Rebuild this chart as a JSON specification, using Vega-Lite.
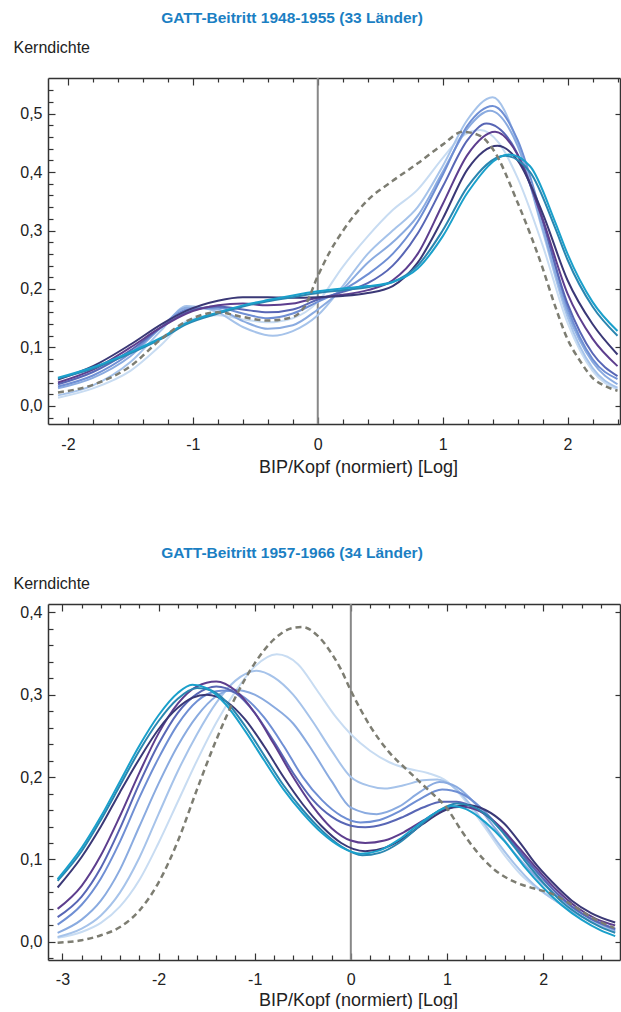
{
"$schema": "https://vega.github.io/schema/vega-lite/v6.json",
"background": "white",
"padding": {"left": 13, "top": 10, "right": 0, "bottom": 0},
"bounds": "flush",
"spacing": 180,
"config": {
  "view": {"stroke": null},
  "font": "Liberation Sans",
  "axis": {"domainColor": "#333333", "domainWidth": 1.5, "tickColor": "#333333", "tickWidth": 1.2, "grid": false, "labelFont": "Liberation Sans", "labelFontSize": 16, "labelColor": "#222222", "titleFont": "Liberation Sans", "titleFontWeight": "normal", "titleColor": "#222222", "labelOverlap": false, "labelFlush": false},
  "title": {"font": "Liberation Sans", "fontSize": 15.5, "fontWeight": "bold", "color": "#1b7fc3", "anchor": "middle"}
},
"datasets": {
"p1": [
{"s":"d","x":-2.08,"y":0.023},{"s":"d","x":-1.8,"y":0.036},{"s":"d","x":-1.5,"y":0.068},{"s":"d","x":-1.25,"y":0.115},{"s":"d","x":-1.05,"y":0.145},{"s":"d","x":-0.8,"y":0.16},{"s":"d","x":-0.6,"y":0.152},{"s":"d","x":-0.4,"y":0.146},{"s":"d","x":-0.2,"y":0.152},{"s":"d","x":-0.1,"y":0.172},{"s":"d","x":0,"y":0.222},{"s":"d","x":0.1,"y":0.265},{"s":"d","x":0.2,"y":0.299},{"s":"d","x":0.4,"y":0.352},{"s":"d","x":0.6,"y":0.385},{"s":"d","x":0.8,"y":0.415},{"s":"d","x":1.0,"y":0.447},{"s":"d","x":1.16,"y":0.469},{"s":"d","x":1.3,"y":0.462},{"s":"d","x":1.4,"y":0.44},{"s":"d","x":1.6,"y":0.348},{"s":"d","x":1.8,"y":0.236},{"s":"d","x":1.9,"y":0.171},{"s":"d","x":2.0,"y":0.114},{"s":"d","x":2.1,"y":0.077},{"s":"d","x":2.2,"y":0.048},{"s":"d","x":2.3,"y":0.034},{"s":"d","x":2.4,"y":0.026},
{"s":"s1","x":-2.08,"y":0.014},{"s":"s1","x":-1.8,"y":0.03},{"s":"s1","x":-1.5,"y":0.06},{"s":"s1","x":-1.25,"y":0.105},{"s":"s1","x":-1.05,"y":0.145},{"s":"s1","x":-0.8,"y":0.155},{"s":"s1","x":-0.6,"y":0.148},{"s":"s1","x":-0.4,"y":0.143},{"s":"s1","x":-0.2,"y":0.15},{"s":"s1","x":0,"y":0.178},{"s":"s1","x":0.2,"y":0.238},{"s":"s1","x":0.4,"y":0.29},{"s":"s1","x":0.6,"y":0.335},{"s":"s1","x":0.8,"y":0.37},{"s":"s1","x":1.0,"y":0.424},{"s":"s1","x":1.15,"y":0.46},{"s":"s1","x":1.3,"y":0.472},{"s":"s1","x":1.45,"y":0.45},{"s":"s1","x":1.6,"y":0.39},{"s":"s1","x":1.8,"y":0.275},{"s":"s1","x":2.0,"y":0.142},{"s":"s1","x":2.2,"y":0.06},{"s":"s1","x":2.4,"y":0.028},
{"s":"s2","x":-2.08,"y":0.018},{"s":"s2","x":-1.8,"y":0.035},{"s":"s2","x":-1.5,"y":0.075},{"s":"s2","x":-1.25,"y":0.13},{"s":"s2","x":-1.05,"y":0.171},{"s":"s2","x":-0.8,"y":0.16},{"s":"s2","x":-0.6,"y":0.135},{"s":"s2","x":-0.36,"y":0.12},{"s":"s2","x":-0.2,"y":0.128},{"s":"s2","x":0,"y":0.155},{"s":"s2","x":0.2,"y":0.205},{"s":"s2","x":0.4,"y":0.26},{"s":"s2","x":0.6,"y":0.3},{"s":"s2","x":0.8,"y":0.34},{"s":"s2","x":1.0,"y":0.41},{"s":"s2","x":1.2,"y":0.49},{"s":"s2","x":1.4,"y":0.528},{"s":"s2","x":1.6,"y":0.45},{"s":"s2","x":1.8,"y":0.3},{"s":"s2","x":2.0,"y":0.152},{"s":"s2","x":2.2,"y":0.065},{"s":"s2","x":2.4,"y":0.031},
{"s":"s3","x":-2.08,"y":0.03},{"s":"s3","x":-1.8,"y":0.048},{"s":"s3","x":-1.5,"y":0.085},{"s":"s3","x":-1.25,"y":0.135},{"s":"s3","x":-1.05,"y":0.168},{"s":"s3","x":-0.8,"y":0.165},{"s":"s3","x":-0.6,"y":0.145},{"s":"s3","x":-0.4,"y":0.132},{"s":"s3","x":-0.2,"y":0.138},{"s":"s3","x":0,"y":0.165},{"s":"s3","x":0.2,"y":0.2},{"s":"s3","x":0.4,"y":0.245},{"s":"s3","x":0.6,"y":0.28},{"s":"s3","x":0.8,"y":0.325},{"s":"s3","x":1.0,"y":0.4},{"s":"s3","x":1.2,"y":0.475},{"s":"s3","x":1.38,"y":0.505},{"s":"s3","x":1.6,"y":0.445},{"s":"s3","x":1.8,"y":0.305},{"s":"s3","x":2.0,"y":0.16},{"s":"s3","x":2.2,"y":0.075},{"s":"s3","x":2.4,"y":0.037},
{"s":"s4","x":-2.08,"y":0.033},{"s":"s4","x":-1.8,"y":0.052},{"s":"s4","x":-1.5,"y":0.09},{"s":"s4","x":-1.25,"y":0.135},{"s":"s4","x":-1.05,"y":0.165},{"s":"s4","x":-0.8,"y":0.168},{"s":"s4","x":-0.6,"y":0.158},{"s":"s4","x":-0.4,"y":0.15},{"s":"s4","x":-0.2,"y":0.158},{"s":"s4","x":0,"y":0.178},{"s":"s4","x":0.2,"y":0.198},{"s":"s4","x":0.4,"y":0.225},{"s":"s4","x":0.6,"y":0.26},{"s":"s4","x":0.8,"y":0.315},{"s":"s4","x":1.0,"y":0.395},{"s":"s4","x":1.2,"y":0.48},{"s":"s4","x":1.4,"y":0.513},{"s":"s4","x":1.6,"y":0.455},{"s":"s4","x":1.8,"y":0.32},{"s":"s4","x":2.0,"y":0.168},{"s":"s4","x":2.2,"y":0.08},{"s":"s4","x":2.4,"y":0.046},
{"s":"s5","x":-2.08,"y":0.037},{"s":"s5","x":-1.8,"y":0.058},{"s":"s5","x":-1.5,"y":0.095},{"s":"s5","x":-1.25,"y":0.135},{"s":"s5","x":-1.05,"y":0.16},{"s":"s5","x":-0.8,"y":0.17},{"s":"s5","x":-0.6,"y":0.165},{"s":"s5","x":-0.4,"y":0.16},{"s":"s5","x":-0.2,"y":0.165},{"s":"s5","x":0,"y":0.182},{"s":"s5","x":0.2,"y":0.195},{"s":"s5","x":0.4,"y":0.21},{"s":"s5","x":0.6,"y":0.24},{"s":"s5","x":0.8,"y":0.295},{"s":"s5","x":1.0,"y":0.375},{"s":"s5","x":1.2,"y":0.455},{"s":"s5","x":1.35,"y":0.483},{"s":"s5","x":1.55,"y":0.45},{"s":"s5","x":1.75,"y":0.35},{"s":"s5","x":2.0,"y":0.175},{"s":"s5","x":2.2,"y":0.09},{"s":"s5","x":2.4,"y":0.051},
{"s":"s6","x":-2.08,"y":0.04},{"s":"s6","x":-1.8,"y":0.062},{"s":"s6","x":-1.5,"y":0.1},{"s":"s6","x":-1.25,"y":0.135},{"s":"s6","x":-1.05,"y":0.158},{"s":"s6","x":-0.8,"y":0.172},{"s":"s6","x":-0.6,"y":0.175},{"s":"s6","x":-0.4,"y":0.172},{"s":"s6","x":-0.2,"y":0.175},{"s":"s6","x":0,"y":0.185},{"s":"s6","x":0.2,"y":0.19},{"s":"s6","x":0.4,"y":0.198},{"s":"s6","x":0.6,"y":0.215},{"s":"s6","x":0.8,"y":0.26},{"s":"s6","x":1.0,"y":0.345},{"s":"s6","x":1.2,"y":0.43},{"s":"s6","x":1.42,"y":0.469},{"s":"s6","x":1.6,"y":0.43},{"s":"s6","x":1.8,"y":0.32},{"s":"s6","x":2.0,"y":0.192},{"s":"s6","x":2.2,"y":0.115},{"s":"s6","x":2.4,"y":0.068},
{"s":"s7","x":-2.08,"y":0.045},{"s":"s7","x":-1.8,"y":0.068},{"s":"s7","x":-1.5,"y":0.105},{"s":"s7","x":-1.25,"y":0.14},{"s":"s7","x":-1.05,"y":0.163},{"s":"s7","x":-0.8,"y":0.18},{"s":"s7","x":-0.6,"y":0.186},{"s":"s7","x":-0.4,"y":0.186},{"s":"s7","x":-0.2,"y":0.185},{"s":"s7","x":0,"y":0.186},{"s":"s7","x":0.2,"y":0.188},{"s":"s7","x":0.4,"y":0.193},{"s":"s7","x":0.6,"y":0.205},{"s":"s7","x":0.8,"y":0.245},{"s":"s7","x":1.0,"y":0.32},{"s":"s7","x":1.2,"y":0.405},{"s":"s7","x":1.44,"y":0.445},{"s":"s7","x":1.6,"y":0.42},{"s":"s7","x":1.8,"y":0.33},{"s":"s7","x":2.0,"y":0.215},{"s":"s7","x":2.2,"y":0.14},{"s":"s7","x":2.4,"y":0.088},
{"s":"s8","x":-2.08,"y":0.047},{"s":"s8","x":-1.8,"y":0.064},{"s":"s8","x":-1.5,"y":0.09},{"s":"s8","x":-1.25,"y":0.115},{"s":"s8","x":-1.05,"y":0.14},{"s":"s8","x":-0.8,"y":0.158},{"s":"s8","x":-0.6,"y":0.17},{"s":"s8","x":-0.4,"y":0.179},{"s":"s8","x":-0.2,"y":0.186},{"s":"s8","x":0,"y":0.193},{"s":"s8","x":0.2,"y":0.198},{"s":"s8","x":0.4,"y":0.203},{"s":"s8","x":0.6,"y":0.212},{"s":"s8","x":0.8,"y":0.24},{"s":"s8","x":1.0,"y":0.3},{"s":"s8","x":1.2,"y":0.375},{"s":"s8","x":1.5,"y":0.428},{"s":"s8","x":1.7,"y":0.4},{"s":"s8","x":1.9,"y":0.305},{"s":"s8","x":2.0,"y":0.25},{"s":"s8","x":2.2,"y":0.17},{"s":"s8","x":2.4,"y":0.12},
{"s":"s9","x":-2.08,"y":0.048},{"s":"s9","x":-1.8,"y":0.066},{"s":"s9","x":-1.5,"y":0.092},{"s":"s9","x":-1.25,"y":0.117},{"s":"s9","x":-1.05,"y":0.142},{"s":"s9","x":-0.8,"y":0.16},{"s":"s9","x":-0.6,"y":0.172},{"s":"s9","x":-0.4,"y":0.181},{"s":"s9","x":-0.2,"y":0.189},{"s":"s9","x":0,"y":0.196},{"s":"s9","x":0.2,"y":0.201},{"s":"s9","x":0.4,"y":0.205},{"s":"s9","x":0.6,"y":0.212},{"s":"s9","x":0.8,"y":0.235},{"s":"s9","x":1.0,"y":0.29},{"s":"s9","x":1.2,"y":0.365},{"s":"s9","x":1.53,"y":0.43},{"s":"s9","x":1.7,"y":0.41},{"s":"s9","x":1.9,"y":0.315},{"s":"s9","x":2.0,"y":0.26},{"s":"s9","x":2.2,"y":0.178},{"s":"s9","x":2.4,"y":0.128}
],
"p2": [
{"s":"d","x":-3.05,"y":-0.001},{"s":"d","x":-2.8,"y":0.002},{"s":"d","x":-2.6,"y":0.008},{"s":"d","x":-2.4,"y":0.018},{"s":"d","x":-2.2,"y":0.038},{"s":"d","x":-2.0,"y":0.072},{"s":"d","x":-1.8,"y":0.122},{"s":"d","x":-1.6,"y":0.185},{"s":"d","x":-1.4,"y":0.245},{"s":"d","x":-1.2,"y":0.297},{"s":"d","x":-1.0,"y":0.338},{"s":"d","x":-0.8,"y":0.367},{"s":"d","x":-0.6,"y":0.381},{"s":"d","x":-0.5,"y":0.382},{"s":"d","x":-0.35,"y":0.372},{"s":"d","x":-0.2,"y":0.35},{"s":"d","x":-0.1,"y":0.33},{"s":"d","x":0,"y":0.305},{"s":"d","x":0.2,"y":0.262},{"s":"d","x":0.4,"y":0.23},{"s":"d","x":0.6,"y":0.207},{"s":"d","x":0.8,"y":0.185},{"s":"d","x":1.0,"y":0.162},{"s":"d","x":1.15,"y":0.135},{"s":"d","x":1.3,"y":0.111},{"s":"d","x":1.5,"y":0.087},{"s":"d","x":1.7,"y":0.073},{"s":"d","x":1.9,"y":0.065},{"s":"d","x":2.1,"y":0.058},{"s":"d","x":2.3,"y":0.045},{"s":"d","x":2.5,"y":0.03},{"s":"d","x":2.74,"y":0.017},
{"s":"s1","x":-3.05,"y":0.005},{"s":"s1","x":-2.8,"y":0.012},{"s":"s1","x":-2.6,"y":0.023},{"s":"s1","x":-2.4,"y":0.043},{"s":"s1","x":-2.2,"y":0.075},{"s":"s1","x":-2.0,"y":0.12},{"s":"s1","x":-1.8,"y":0.17},{"s":"s1","x":-1.6,"y":0.22},{"s":"s1","x":-1.4,"y":0.266},{"s":"s1","x":-1.2,"y":0.304},{"s":"s1","x":-1.0,"y":0.334},{"s":"s1","x":-0.77,"y":0.349},{"s":"s1","x":-0.55,"y":0.337},{"s":"s1","x":-0.35,"y":0.305},{"s":"s1","x":-0.15,"y":0.272},{"s":"s1","x":0,"y":0.252},{"s":"s1","x":0.2,"y":0.232},{"s":"s1","x":0.4,"y":0.218},{"s":"s1","x":0.6,"y":0.21},{"s":"s1","x":0.8,"y":0.205},{"s":"s1","x":1.0,"y":0.195},{"s":"s1","x":1.2,"y":0.17},{"s":"s1","x":1.4,"y":0.138},{"s":"s1","x":1.6,"y":0.105},{"s":"s1","x":1.8,"y":0.078},{"s":"s1","x":2.0,"y":0.06},{"s":"s1","x":2.2,"y":0.045},{"s":"s1","x":2.4,"y":0.031},{"s":"s1","x":2.6,"y":0.019},{"s":"s1","x":2.75,"y":0.012},
{"s":"s2","x":-3.05,"y":0.006},{"s":"s2","x":-2.8,"y":0.016},{"s":"s2","x":-2.6,"y":0.032},{"s":"s2","x":-2.4,"y":0.06},{"s":"s2","x":-2.2,"y":0.102},{"s":"s2","x":-2.0,"y":0.155},{"s":"s2","x":-1.8,"y":0.207},{"s":"s2","x":-1.6,"y":0.252},{"s":"s2","x":-1.4,"y":0.29},{"s":"s2","x":-1.2,"y":0.317},{"s":"s2","x":-0.98,"y":0.329},{"s":"s2","x":-0.8,"y":0.321},{"s":"s2","x":-0.6,"y":0.3},{"s":"s2","x":-0.4,"y":0.268},{"s":"s2","x":-0.2,"y":0.232},{"s":"s2","x":0,"y":0.2},{"s":"s2","x":0.2,"y":0.189},{"s":"s2","x":0.35,"y":0.186},{"s":"s2","x":0.55,"y":0.19},{"s":"s2","x":0.75,"y":0.196},{"s":"s2","x":0.9,"y":0.197},{"s":"s2","x":1.1,"y":0.185},{"s":"s2","x":1.3,"y":0.158},{"s":"s2","x":1.5,"y":0.125},{"s":"s2","x":1.7,"y":0.095},{"s":"s2","x":1.9,"y":0.07},{"s":"s2","x":2.1,"y":0.052},{"s":"s2","x":2.3,"y":0.037},{"s":"s2","x":2.5,"y":0.025},{"s":"s2","x":2.75,"y":0.013},
{"s":"s3","x":-3.05,"y":0.011},{"s":"s3","x":-2.8,"y":0.027},{"s":"s3","x":-2.6,"y":0.05},{"s":"s3","x":-2.4,"y":0.088},{"s":"s3","x":-2.2,"y":0.14},{"s":"s3","x":-2.0,"y":0.192},{"s":"s3","x":-1.8,"y":0.238},{"s":"s3","x":-1.6,"y":0.274},{"s":"s3","x":-1.4,"y":0.298},{"s":"s3","x":-1.22,"y":0.306},{"s":"s3","x":-1.0,"y":0.3},{"s":"s3","x":-0.8,"y":0.285},{"s":"s3","x":-0.6,"y":0.265},{"s":"s3","x":-0.4,"y":0.232},{"s":"s3","x":-0.2,"y":0.195},{"s":"s3","x":0,"y":0.163},{"s":"s3","x":0.27,"y":0.155},{"s":"s3","x":0.5,"y":0.164},{"s":"s3","x":0.72,"y":0.182},{"s":"s3","x":0.92,"y":0.194},{"s":"s3","x":1.1,"y":0.188},{"s":"s3","x":1.3,"y":0.167},{"s":"s3","x":1.5,"y":0.138},{"s":"s3","x":1.7,"y":0.108},{"s":"s3","x":1.9,"y":0.082},{"s":"s3","x":2.1,"y":0.06},{"s":"s3","x":2.3,"y":0.042},{"s":"s3","x":2.5,"y":0.028},{"s":"s3","x":2.75,"y":0.014},
{"s":"s4","x":-3.05,"y":0.021},{"s":"s4","x":-2.8,"y":0.045},{"s":"s4","x":-2.6,"y":0.077},{"s":"s4","x":-2.4,"y":0.122},{"s":"s4","x":-2.2,"y":0.175},{"s":"s4","x":-2.0,"y":0.223},{"s":"s4","x":-1.8,"y":0.264},{"s":"s4","x":-1.6,"y":0.292},{"s":"s4","x":-1.4,"y":0.304},{"s":"s4","x":-1.3,"y":0.305},{"s":"s4","x":-1.1,"y":0.296},{"s":"s4","x":-0.9,"y":0.272},{"s":"s4","x":-0.7,"y":0.238},{"s":"s4","x":-0.5,"y":0.2},{"s":"s4","x":-0.3,"y":0.172},{"s":"s4","x":-0.1,"y":0.153},{"s":"s4","x":0.1,"y":0.145},{"s":"s4","x":0.3,"y":0.148},{"s":"s4","x":0.5,"y":0.158},{"s":"s4","x":0.7,"y":0.172},{"s":"s4","x":0.95,"y":0.185},{"s":"s4","x":1.15,"y":0.18},{"s":"s4","x":1.35,"y":0.163},{"s":"s4","x":1.55,"y":0.138},{"s":"s4","x":1.75,"y":0.11},{"s":"s4","x":1.95,"y":0.083},{"s":"s4","x":2.15,"y":0.058},{"s":"s4","x":2.35,"y":0.038},{"s":"s4","x":2.55,"y":0.025},{"s":"s4","x":2.75,"y":0.015},
{"s":"s5","x":-3.05,"y":0.03},{"s":"s5","x":-2.8,"y":0.055},{"s":"s5","x":-2.6,"y":0.09},{"s":"s5","x":-2.4,"y":0.138},{"s":"s5","x":-2.2,"y":0.192},{"s":"s5","x":-2.0,"y":0.24},{"s":"s5","x":-1.8,"y":0.278},{"s":"s5","x":-1.6,"y":0.301},{"s":"s5","x":-1.4,"y":0.31},{"s":"s5","x":-1.2,"y":0.302},{"s":"s5","x":-1.0,"y":0.278},{"s":"s5","x":-0.8,"y":0.243},{"s":"s5","x":-0.6,"y":0.205},{"s":"s5","x":-0.4,"y":0.173},{"s":"s5","x":-0.2,"y":0.152},{"s":"s5","x":0,"y":0.141},{"s":"s5","x":0.15,"y":0.139},{"s":"s5","x":0.35,"y":0.143},{"s":"s5","x":0.55,"y":0.152},{"s":"s5","x":0.75,"y":0.163},{"s":"s5","x":0.95,"y":0.17},{"s":"s5","x":1.1,"y":0.17},{"s":"s5","x":1.3,"y":0.162},{"s":"s5","x":1.5,"y":0.145},{"s":"s5","x":1.7,"y":0.118},{"s":"s5","x":1.9,"y":0.09},{"s":"s5","x":2.1,"y":0.064},{"s":"s5","x":2.3,"y":0.043},{"s":"s5","x":2.5,"y":0.028},{"s":"s5","x":2.75,"y":0.016},
{"s":"s6","x":-3.05,"y":0.04},{"s":"s6","x":-2.8,"y":0.068},{"s":"s6","x":-2.6,"y":0.105},{"s":"s6","x":-2.4,"y":0.153},{"s":"s6","x":-2.2,"y":0.205},{"s":"s6","x":-2.0,"y":0.253},{"s":"s6","x":-1.8,"y":0.289},{"s":"s6","x":-1.6,"y":0.31},{"s":"s6","x":-1.4,"y":0.316},{"s":"s6","x":-1.2,"y":0.305},{"s":"s6","x":-1.0,"y":0.278},{"s":"s6","x":-0.8,"y":0.24},{"s":"s6","x":-0.6,"y":0.2},{"s":"s6","x":-0.4,"y":0.165},{"s":"s6","x":-0.2,"y":0.138},{"s":"s6","x":0,"y":0.123},{"s":"s6","x":0.15,"y":0.12},{"s":"s6","x":0.35,"y":0.123},{"s":"s6","x":0.55,"y":0.133},{"s":"s6","x":0.75,"y":0.147},{"s":"s6","x":0.95,"y":0.16},{"s":"s6","x":1.15,"y":0.164},{"s":"s6","x":1.35,"y":0.158},{"s":"s6","x":1.55,"y":0.14},{"s":"s6","x":1.75,"y":0.114},{"s":"s6","x":1.95,"y":0.087},{"s":"s6","x":2.15,"y":0.062},{"s":"s6","x":2.35,"y":0.042},{"s":"s6","x":2.55,"y":0.028},{"s":"s6","x":2.75,"y":0.02},
{"s":"s7","x":-3.05,"y":0.066},{"s":"s7","x":-2.8,"y":0.103},{"s":"s7","x":-2.6,"y":0.14},{"s":"s7","x":-2.4,"y":0.182},{"s":"s7","x":-2.2,"y":0.222},{"s":"s7","x":-2.0,"y":0.258},{"s":"s7","x":-1.8,"y":0.284},{"s":"s7","x":-1.65,"y":0.296},{"s":"s7","x":-1.5,"y":0.3},{"s":"s7","x":-1.3,"y":0.292},{"s":"s7","x":-1.1,"y":0.27},{"s":"s7","x":-0.9,"y":0.237},{"s":"s7","x":-0.7,"y":0.2},{"s":"s7","x":-0.5,"y":0.167},{"s":"s7","x":-0.3,"y":0.14},{"s":"s7","x":-0.1,"y":0.12},{"s":"s7","x":0.15,"y":0.11},{"s":"s7","x":0.35,"y":0.114},{"s":"s7","x":0.55,"y":0.126},{"s":"s7","x":0.75,"y":0.143},{"s":"s7","x":0.95,"y":0.158},{"s":"s7","x":1.2,"y":0.166},{"s":"s7","x":1.4,"y":0.16},{"s":"s7","x":1.6,"y":0.143},{"s":"s7","x":1.8,"y":0.114},{"s":"s7","x":1.9,"y":0.098},{"s":"s7","x":2.1,"y":0.072},{"s":"s7","x":2.3,"y":0.05},{"s":"s7","x":2.5,"y":0.035},{"s":"s7","x":2.75,"y":0.0235},
{"s":"s8","x":-3.05,"y":0.074},{"s":"s8","x":-2.8,"y":0.11},{"s":"s8","x":-2.6,"y":0.148},{"s":"s8","x":-2.4,"y":0.19},{"s":"s8","x":-2.2,"y":0.232},{"s":"s8","x":-2.0,"y":0.268},{"s":"s8","x":-1.8,"y":0.295},{"s":"s8","x":-1.6,"y":0.308},{"s":"s8","x":-1.45,"y":0.305},{"s":"s8","x":-1.3,"y":0.292},{"s":"s8","x":-1.1,"y":0.262},{"s":"s8","x":-0.9,"y":0.226},{"s":"s8","x":-0.7,"y":0.19},{"s":"s8","x":-0.5,"y":0.16},{"s":"s8","x":-0.3,"y":0.135},{"s":"s8","x":-0.1,"y":0.116},{"s":"s8","x":0.12,"y":0.105},{"s":"s8","x":0.3,"y":0.108},{"s":"s8","x":0.5,"y":0.12},{"s":"s8","x":0.7,"y":0.139},{"s":"s8","x":0.9,"y":0.158},{"s":"s8","x":1.1,"y":0.168},{"s":"s8","x":1.25,"y":0.165},{"s":"s8","x":1.4,"y":0.155},{"s":"s8","x":1.6,"y":0.13},{"s":"s8","x":1.8,"y":0.1},{"s":"s8","x":2.0,"y":0.072},{"s":"s8","x":2.2,"y":0.048},{"s":"s8","x":2.4,"y":0.031},{"s":"s8","x":2.6,"y":0.018},{"s":"s8","x":2.75,"y":0.011},
{"s":"s9","x":-3.05,"y":0.076},{"s":"s9","x":-2.8,"y":0.114},{"s":"s9","x":-2.6,"y":0.152},{"s":"s9","x":-2.4,"y":0.195},{"s":"s9","x":-2.2,"y":0.238},{"s":"s9","x":-2.0,"y":0.275},{"s":"s9","x":-1.8,"y":0.302},{"s":"s9","x":-1.65,"y":0.312},{"s":"s9","x":-1.5,"y":0.308},{"s":"s9","x":-1.3,"y":0.288},{"s":"s9","x":-1.1,"y":0.256},{"s":"s9","x":-0.9,"y":0.22},{"s":"s9","x":-0.7,"y":0.185},{"s":"s9","x":-0.5,"y":0.156},{"s":"s9","x":-0.3,"y":0.132},{"s":"s9","x":-0.1,"y":0.115},{"s":"s9","x":0.1,"y":0.107},{"s":"s9","x":0.3,"y":0.111},{"s":"s9","x":0.5,"y":0.124},{"s":"s9","x":0.7,"y":0.142},{"s":"s9","x":0.9,"y":0.158},{"s":"s9","x":1.05,"y":0.165},{"s":"s9","x":1.2,"y":0.161},{"s":"s9","x":1.4,"y":0.145},{"s":"s9","x":1.6,"y":0.122},{"s":"s9","x":1.8,"y":0.092},{"s":"s9","x":2.0,"y":0.066},{"s":"s9","x":2.2,"y":0.044},{"s":"s9","x":2.4,"y":0.027},{"s":"s9","x":2.6,"y":0.014},{"s":"s9","x":2.75,"y":0.007}
]
},
"vconcat": [
{
  "title": {"text": "GATT-Beitritt 1948-1955 (33 Länder)", "dx": -42, "offset": 13},
  "width": 572, "height": 346,
  "data": {"name": "p1"},
  "layer": [
    {"data": {"values": [{"x": 0}]}, "mark": {"type": "rule", "color": "#888888", "strokeWidth": 2},
     "encoding": {"x": {"field": "x", "type": "quantitative", "axis": null}}},
    {"transform": [{"filter": "datum.s !== 'd'"}],
     "mark": {"type": "line", "interpolate": "monotone", "strokeWidth": 2, "clip": true},
     "encoding": {
       "x": {"field": "x", "type": "quantitative", "scale": {"domain": [-2.16, 2.42], "nice": false, "zero": false},
             "axis": {"orient": "bottom", "values": [-2,-1.8,-1.6,-1.4,-1.2,-1,-0.8,-0.6,-0.4,-0.2,0,0.2,0.4,0.6,0.8,1,1.2,1.4,1.6,1.8,2,2.2,2.4],
                      "labelExpr": "datum.value % 1 === 0 ? toString(datum.value) : ''",
                      "tickSize": {"condition": {"test": "datum.value % 1 === 0", "value": -7}, "value": -5},
                      "labelPadding": 19, "title": "BIP/Kopf (normiert) [Log]", "titleFontSize": 18, "titleX": 310, "titleY": 43, "titleBaseline": "middle"}},
       "y": {"field": "y", "type": "quantitative", "scale": {"domain": [-0.031, 0.561], "nice": false, "zero": false},
             "axis": {"orient": "left", "values": [-0.02,0,0.02,0.04,0.06,0.08,0.1,0.12,0.14,0.16,0.18,0.2,0.22,0.24,0.26,0.28,0.3,0.32,0.34,0.36,0.38,0.4,0.42,0.44,0.46,0.48,0.5,0.52,0.54],
                      "labelExpr": "abs(datum.value*10 - round(datum.value*10)) < 0.001 ? replace(format(datum.value, '.1f'), '.', ',') : ''",
                      "tickSize": {"condition": {"test": "abs(datum.value*10 - round(datum.value*10)) < 0.001", "value": -7}, "value": -5},
                      "labelPadding": 13, "title": "Kerndichte", "titleFontSize": 16, "titleAngle": 0, "titleAlign": "left", "titleBaseline": "middle", "titleX": -35, "titleY": -31}},
       "color": {"field": "s", "type": "nominal", "legend": null,
                 "scale": {"domain": ["s1","s2","s3","s4","s5","s6","s7","s8","s9"], "range": ["#c8dcf2","#a6c3ea","#8aabe0","#6f8fd4","#5866b5","#5d3e8e","#3a3876","#2a86b0","#1aa0cb"]}}
     }},
    {"transform": [{"filter": "datum.s === 'd'"}],
     "mark": {"type": "line", "interpolate": "monotone", "strokeWidth": 2.5, "strokeDash": [6, 4], "color": "#7d7d72", "clip": true},
     "encoding": {"x": {"field": "x", "type": "quantitative", "axis": null}, "y": {"field": "y", "type": "quantitative", "axis": null}}},
    {"transform": [{"filter": "datum.s === 'd'"}],
     "mark": {"type": "line", "opacity": 0},
     "encoding": {
       "x": {"field": "x", "type": "quantitative",
             "axis": {"orient": "top", "labels": false, "title": null, "values": [-2,-1.8,-1.6,-1.4,-1.2,-1,-0.8,-0.6,-0.4,-0.2,0,0.2,0.4,0.6,0.8,1,1.2,1.4,1.6,1.8,2,2.2,2.4],
                      "tickSize": {"condition": {"test": "datum.value % 1 === 0", "value": -7}, "value": -4}}},
       "y": {"field": "y", "type": "quantitative",
             "axis": {"orient": "right", "labels": false, "title": null, "values": [0,0.1,0.2,0.3,0.4,0.5], "tickSize": -5}}
     }}
  ]
},
{
  "title": {"text": "GATT-Beitritt 1957-1966 (34 Länder)", "dx": -42, "offset": 14},
  "width": 572, "height": 356,
  "data": {"name": "p2"},
  "layer": [
    {"data": {"values": [{"x": 0}]}, "mark": {"type": "rule", "color": "#888888", "strokeWidth": 2},
     "encoding": {"x": {"field": "x", "type": "quantitative", "axis": null}}},
    {"transform": [{"filter": "datum.s !== 'd'"}],
     "mark": {"type": "line", "interpolate": "monotone", "strokeWidth": 2, "clip": true},
     "encoding": {
       "x": {"field": "x", "type": "quantitative", "scale": {"domain": [-3.15, 2.8], "nice": false, "zero": false},
             "axis": {"orient": "bottom", "values": [-3,-2.8,-2.6,-2.4,-2.2,-2,-1.8,-1.6,-1.4,-1.2,-1,-0.8,-0.6,-0.4,-0.2,0,0.2,0.4,0.6,0.8,1,1.2,1.4,1.6,1.8,2,2.2,2.4,2.6],
                      "labelExpr": "datum.value % 1 === 0 ? toString(datum.value) : ''",
                      "tickSize": {"condition": {"test": "datum.value % 1 === 0", "value": -7}, "value": -5},
                      "labelPadding": 18, "title": "BIP/Kopf (normiert) [Log]", "titleFontSize": 18, "titleX": 310, "titleY": 40, "titleBaseline": "middle"}},
       "y": {"field": "y", "type": "quantitative", "scale": {"domain": [-0.022, 0.41], "nice": false, "zero": false},
             "axis": {"orient": "left", "values": [-0.02,0,0.02,0.04,0.06,0.08,0.1,0.12,0.14,0.16,0.18,0.2,0.22,0.24,0.26,0.28,0.3,0.32,0.34,0.36,0.38,0.4],
                      "labelExpr": "abs(datum.value*10 - round(datum.value*10)) < 0.001 ? replace(format(datum.value, '.1f'), '.', ',') : ''",
                      "tickSize": {"condition": {"test": "abs(datum.value*10 - round(datum.value*10)) < 0.001", "value": -7}, "value": -5},
                      "labelPadding": 13, "title": "Kerndichte", "titleFontSize": 16, "titleAngle": 0, "titleAlign": "left", "titleBaseline": "middle", "titleX": -35, "titleY": -20.5}},
       "color": {"field": "s", "type": "nominal", "legend": null,
                 "scale": {"domain": ["s1","s2","s3","s4","s5","s6","s7","s8","s9"], "range": ["#c8dcf2","#a6c3ea","#8aabe0","#6f8fd4","#5866b5","#5d3e8e","#3a3876","#2a86b0","#1aa0cb"]}}
     }},
    {"transform": [{"filter": "datum.s === 'd'"}],
     "mark": {"type": "line", "interpolate": "monotone", "strokeWidth": 2.5, "strokeDash": [6, 4], "color": "#7d7d72", "clip": true},
     "encoding": {"x": {"field": "x", "type": "quantitative", "axis": null}, "y": {"field": "y", "type": "quantitative", "axis": null}}},
    {"transform": [{"filter": "datum.s === 'd'"}],
     "mark": {"type": "line", "opacity": 0},
     "encoding": {
       "x": {"field": "x", "type": "quantitative",
             "axis": {"orient": "top", "labels": false, "title": null, "values": [-3,-2.8,-2.6,-2.4,-2.2,-2,-1.8,-1.6,-1.4,-1.2,-1,-0.8,-0.6,-0.4,-0.2,0,0.2,0.4,0.6,0.8,1,1.2,1.4,1.6,1.8,2,2.2,2.4,2.6],
                      "tickSize": {"condition": {"test": "datum.value % 1 === 0", "value": -7}, "value": -4}}},
       "y": {"field": "y", "type": "quantitative",
             "axis": {"orient": "right", "labels": false, "title": null, "values": [0,0.1,0.2,0.3,0.4], "tickSize": -5}}
     }}
  ]
}
]
}
